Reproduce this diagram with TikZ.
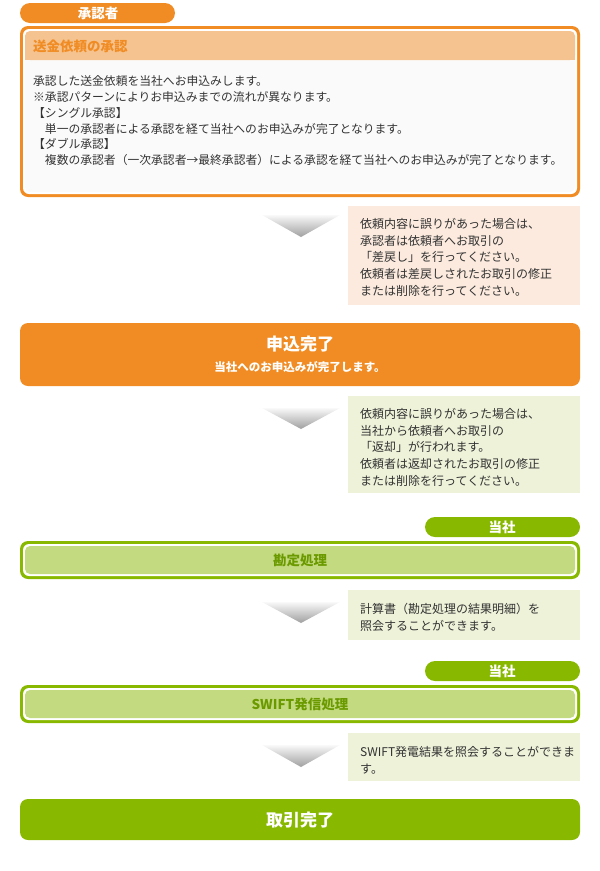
\documentclass[tikz,border=0pt]{standalone}
\usepackage{fontspec}
\setmainfont{Noto Sans CJK JP}
\usetikzlibrary{positioning}
\usepackage{xcolor}
\definecolor{orangeMain}{HTML}{F08C23}
\definecolor{orangeHead}{HTML}{F5C38F}
\definecolor{orangeNote}{HTML}{FBEADD}
\definecolor{greenMain}{HTML}{88B900}
\definecolor{greenFill}{HTML}{C3DA80}
\definecolor{greenText}{HTML}{6B9A00}
\definecolor{greenNote}{HTML}{EEF2D9}
\definecolor{bodyGray}{HTML}{FAFAFA}
\definecolor{textGray}{HTML}{333333}

\begin{document}
\begin{tikzpicture}[x=1pt,y=-1pt,
  every node/.style={inner sep=0pt,text=textGray},
  pilltext/.style={font=\fontsize{13.5}{14}\selectfont\bfseries,text=white},
  notetext/.style={anchor=north west,align=left,font=\fontsize{12}{16.8}\selectfont},
  bodytext/.style={anchor=north west,align=left,font=\fontsize{11.8}{15.8}\selectfont},
  bartitle/.style={font=\fontsize{17}{18}\selectfont\bfseries,text=white},
  stagetext/.style={font=\fontsize{13.5}{14}\selectfont\bfseries,text=greenText}
]
\useasboundingbox (0,0) rectangle (600,871);

% approver box
\fill[orangeMain,rounded corners=10pt] (20,3) rectangle (175,23);
\node[pilltext] (approver) at (98,13) {承認者};
\fill[orangeMain,rounded corners=8pt] (20,26) rectangle (580,197);
\fill[white,rounded corners=6pt] (23,29) rectangle (577,194);
\fill[bodyGray,rounded corners=5pt] (25,31) rectangle (575,192);
\fill[orangeHead,rounded corners=5pt] (25,31) rectangle (575,60);
\fill[orangeHead] (25,50) rectangle (575,60);
\node[anchor=west,font=\fontsize{13.5}{14}\selectfont\bfseries,text=orangeMain]
  (approvehead) at (33,46) {送金依頼の承認};
\node[bodytext] (approvebody) at (33,75.5) {承認した送金依頼を当社へお申込みします。\\
※承認パターンによりお申込みまでの流れが異なります。\\
【シングル承認】\\
　単一の承認者による承認を経て当社へのお申込みが完了となります。\\
【ダブル承認】\\
　複数の承認者（一次承認者→最終承認者）による承認を経て当社へのお申込みが完了となります。};

% step 1
\shade[top color=gray!5,bottom color=gray!75] (262,215) -- (340,215) -- (301,237) -- cycle;
\fill[orangeNote] (348,206) rectangle (580,305);
\node[notetext] (returnnote) at (360,218) {依頼内容に誤りがあった場合は、\\
承認者は依頼者へお取引の\\
「差戻し」を行ってください。\\
依頼者は差戻しされたお取引の修正\\
または削除を行ってください。};

% application done
\fill[orangeMain,rounded corners=8pt] (20,323) rectangle (580,386);
\node[bartitle] (applydone) at (300,344) {申込完了};
\node[font=\fontsize{11.5}{12}\selectfont\bfseries,text=white] (applysub) at (300,367)
  {当社へのお申込みが完了します。};

% step 2
\shade[top color=gray!5,bottom color=gray!75] (262,408) -- (340,408) -- (301,429) -- cycle;
\fill[greenNote] (348,396) rectangle (580,493);
\node[notetext] (rejectnote) at (360,408) {依頼内容に誤りがあった場合は、\\
当社から依頼者へお取引の\\
「返却」が行われます。\\
依頼者は返却されたお取引の修正\\
または削除を行ってください。};

% accounting
\fill[greenMain,rounded corners=10pt] (425,517) rectangle (580,537);
\node[pilltext] (company1) at (502,527) {当社};
\fill[greenMain,rounded corners=8pt] (20,541) rectangle (580,579);
\fill[white,rounded corners=6pt] (23,544) rectangle (577,576);
\fill[greenFill,rounded corners=5pt] (25,546) rectangle (575,574);
\node[stagetext] (accounting) at (300,560) {勘定処理};

% step 3
\shade[top color=gray!5,bottom color=gray!75] (262,602) -- (340,602) -- (301,623) -- cycle;
\fill[greenNote] (348,590) rectangle (580,640);
\node[notetext] (calcnote) at (360,603) {計算書（勘定処理の結果明細）を\\
照会することができます。};

% SWIFT
\fill[greenMain,rounded corners=10pt] (425,661) rectangle (580,681);
\node[pilltext] (company2) at (502,671) {当社};
\fill[greenMain,rounded corners=8pt] (20,685) rectangle (580,723);
\fill[white,rounded corners=6pt] (23,688) rectangle (577,720);
\fill[greenFill,rounded corners=5pt] (25,690) rectangle (575,718);
\node[stagetext] (swift) at (300,704) {SWIFT発信処理};

% step 4
\shade[top color=gray!5,bottom color=gray!75] (262,745) -- (340,745) -- (301,767) -- cycle;
\fill[greenNote] (348,733) rectangle (580,781);
\node[notetext] (swiftnote) at (360,746) {SWIFT発電結果を照会することができま\\
す。};

% trade done
\fill[greenMain,rounded corners=8pt] (20,799) rectangle (580,840);
\node[bartitle] (tradedone) at (300,820) {取引完了};
\end{tikzpicture}
\end{document}
